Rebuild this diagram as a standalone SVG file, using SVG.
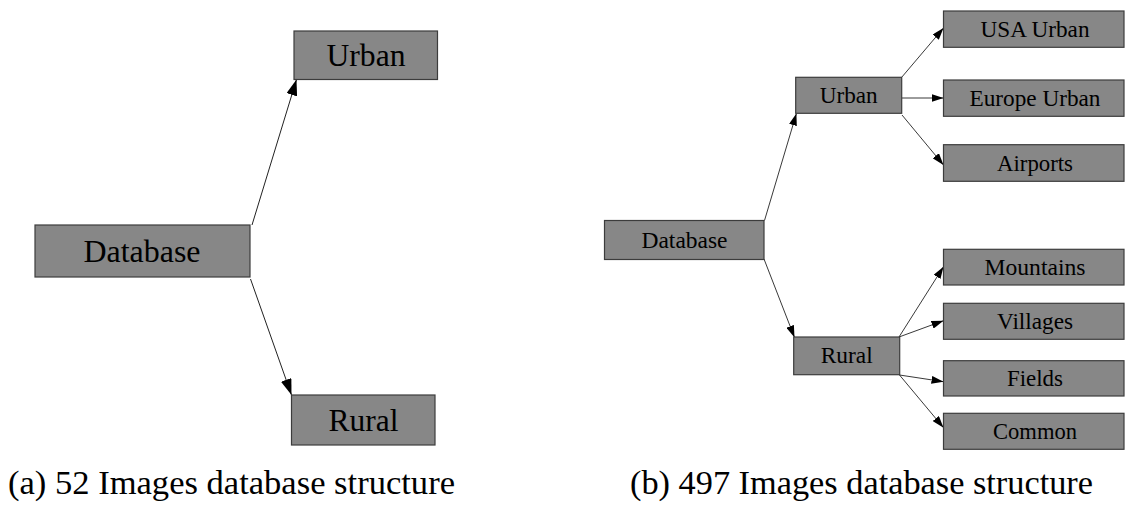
<svg xmlns="http://www.w3.org/2000/svg" width="1125" height="506" viewBox="0 0 1125 506">
<defs>
<marker id="ahL" markerUnits="userSpaceOnUse" markerWidth="16" markerHeight="11" refX="16" refY="5.5" orient="auto"><path d="M0,0 L16,5.5 L0,11 z" fill="#000"/></marker>
<marker id="ahR" markerUnits="userSpaceOnUse" markerWidth="12" markerHeight="8" refX="12" refY="4" orient="auto"><path d="M0,0 L12,4 L0,8 z" fill="#000"/></marker>
</defs>
<style>
.box{fill:#878787;stroke:#3c3c3c;stroke-width:1.2}
.eL{stroke:#222;stroke-width:1;fill:none;marker-end:url(#ahL)}
.eR{stroke:#222;stroke-width:0.9;fill:none;marker-end:url(#ahR)}
text{font-family:'Times New Roman','Liberation Serif',serif;fill:#000}
.n{text-anchor:middle}
</style>
<rect width="1125" height="506" fill="#fff"/>
<g id="connectors">
<line class="eL" x1="252" y1="225" x2="296.5" y2="79.5"/>
<line class="eL" x1="250.5" y1="279" x2="291.5" y2="395"/>
<line class="eR" x1="764.5" y1="220.5" x2="796.4" y2="113.5"/>
<line class="eR" x1="764" y1="259" x2="794.5" y2="337.5"/>
<line class="eR" x1="901.5" y1="77.5" x2="943.5" y2="28"/>
<line class="eR" x1="902" y1="98" x2="943.5" y2="98"/>
<line class="eR" x1="902" y1="115" x2="943.5" y2="165"/>
<line class="eR" x1="899" y1="337" x2="943.5" y2="266.7"/>
<line class="eR" x1="899" y1="337" x2="943.5" y2="320.7"/>
<line class="eR" x1="899.5" y1="375" x2="943.5" y2="381.7"/>
<line class="eR" x1="899.5" y1="375" x2="943.5" y2="427.7"/>
</g>
<g font-size="32">
<g id="a-urban"><rect class="box" x="294" y="31" width="143.5" height="48.5"/><text class="n" x="366" y="65.5" textLength="79" lengthAdjust="spacingAndGlyphs">Urban</text></g>
<g id="a-database"><rect class="box" x="35" y="225" width="215" height="52"/><text class="n" x="142" y="261.5" textLength="117" lengthAdjust="spacingAndGlyphs">Database</text></g>
<g id="a-rural"><rect class="box" x="291.5" y="395" width="143.5" height="50"/><text class="n" x="363.5" y="430.5" textLength="70" lengthAdjust="spacingAndGlyphs">Rural</text></g>
</g>
<g font-size="23.5">
<g id="b-database"><rect class="box" x="604.5" y="220.5" width="159.5" height="39"/><text class="n" x="684.5" y="247.5" textLength="86" lengthAdjust="spacingAndGlyphs">Database</text></g>
<g id="b-urban"><rect class="box" x="795.7" y="77.3" width="106" height="36"/><text class="n" x="848.7" y="102.8" textLength="58" lengthAdjust="spacingAndGlyphs">Urban</text></g>
<g id="b-rural"><rect class="box" x="793.7" y="337" width="106" height="37.7"/><text class="n" x="846.7" y="363.3" textLength="52" lengthAdjust="spacingAndGlyphs">Rural</text></g>
<g id="b-usa"><rect class="box" x="943.5" y="11" width="180.5" height="36.3"/><text class="n" x="1035" y="36.7" textLength="109" lengthAdjust="spacingAndGlyphs">USA Urban</text></g>
<g id="b-europe"><rect class="box" x="943.5" y="80" width="180.5" height="36.3"/><text class="n" x="1035" y="105.7" textLength="131" lengthAdjust="spacingAndGlyphs">Europe Urban</text></g>
<g id="b-airports"><rect class="box" x="943.5" y="144.7" width="180.5" height="36.6"/><text class="n" x="1035" y="170.5" textLength="76" lengthAdjust="spacingAndGlyphs">Airports</text></g>
<g id="b-mountains"><rect class="box" x="943.5" y="249.3" width="180.5" height="35.7"/><text class="n" x="1035" y="274.7" textLength="101" lengthAdjust="spacingAndGlyphs">Mountains</text></g>
<g id="b-villages"><rect class="box" x="943.5" y="303.3" width="180.5" height="36"/><text class="n" x="1035" y="328.8" textLength="76" lengthAdjust="spacingAndGlyphs">Villages</text></g>
<g id="b-fields"><rect class="box" x="943.5" y="360.7" width="180.5" height="35.3"/><text class="n" x="1035" y="385.8" textLength="56" lengthAdjust="spacingAndGlyphs">Fields</text></g>
<g id="b-common"><rect class="box" x="943.5" y="413.3" width="180.5" height="36"/><text class="n" x="1035" y="438.8" textLength="84" lengthAdjust="spacingAndGlyphs">Common</text></g>
</g>
<g font-size="33">
<text x="8" y="494" textLength="447" lengthAdjust="spacingAndGlyphs">(a) 52 Images database structure</text>
<text x="630" y="494" textLength="463" lengthAdjust="spacingAndGlyphs">(b) 497 Images database structure</text>
</g>
</svg>
